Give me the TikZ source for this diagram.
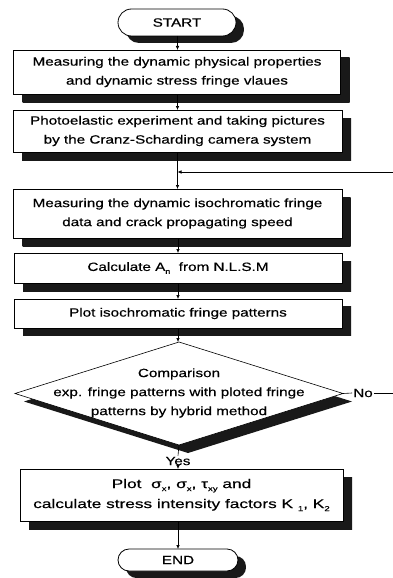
\documentclass[tikz,border=0pt]{standalone}
\usepackage{fontspec}
\setmainfont{Liberation Sans}[FakeStretch=1.27,FakeBold=0.4]
\newfontfamily\widefont{Liberation Sans}[FakeStretch=1.38,FakeBold=0.4]
\usetikzlibrary{shapes.geometric,shapes.misc,arrows.meta}
\newcommand{\mysub}[1]{\raisebox{-0.45ex}{\scriptsize #1}}
\begin{document}
\begin{tikzpicture}[x=1pt,y=-1pt,
  every node/.style={font=\fontsize{12}{19}\selectfont},
  procbox/.style={draw,fill=white,rectangle,inner sep=0pt,outer sep=0pt,align=center,line width=0.8pt},
  term/.style={draw,fill=white,rounded rectangle,inner sep=0pt,outer sep=0pt,line width=0.8pt},
  shadowshade/.style={top color=black!90,bottom color=black!90},
  arr/.style={-{Latex[length=4pt,width=3.5pt]},line width=0.6pt},
  ln/.style={line width=0.6pt}]
\useasboundingbox (0,0) rectangle (393,578);

% shadows
\shade[shadowshade,rounded corners=13pt] (126,16) rectangle (244,43);
\shade[shadowshade] (22.5,58) rectangle (349.5,102);
\shade[shadowshade] (22,118) rectangle (351,160);
\shade[shadowshade] (22.5,197) rectangle (350.5,246);
\shade[shadowshade] (23,261) rectangle (351,291);
\shade[shadowshade] (23,306) rectangle (351,335);
\shade[shadowshade] (188,350) -- (352,401.5) -- (188,453) -- (24,401.5) -- cycle;
\shade[shadowshade] (29,477) rectangle (352,529);
\shade[shadowshade,rounded corners=10.5pt] (126,556) rectangle (246,578);

\node[term,minimum width=118pt,minimum height=27pt] (st) at (177,22.5) {START};
\node[procbox,minimum width=327pt,minimum height=44pt] (b1) at (177,72) {Measuring the dynamic physical properties\\and dynamic stress fringe vlaues};
\node[procbox,minimum width=329pt,minimum height=42pt] (b2) at (177.5,131) {Photoelastic experiment and taking pictures\\by the Cranz-Scharding camera system};
\node[procbox,minimum width=329pt,minimum height=49pt] (b3) at (177.5,213.5) {Measuring the dynamic isochromatic fringe\\data and crack propagating speed};
\node[procbox,minimum width=328pt,minimum height=30pt] (b4) at (178,268) {Calculate A\mysub{n}\ \ from N.L.S.M};
\node[procbox,minimum width=328pt,minimum height=29pt] (b5) at (178,313.5) {Plot isochromatic fringe patterns};
\node[diamond,draw,fill=white,inner sep=0pt,outer sep=0pt,minimum width=328pt,minimum height=103pt,line width=0.6pt] (dia) at (179,393.5) {};
\node[align=center] (diat) at (179,393) {Comparison\\exp. fringe patterns with ploted fringe\\patterns by hybrid method};
\node[inner sep=1pt] (no) at (363,393) {No};
\coordinate (noend) at (393,393);
\node[inner sep=1pt] (yes) at (178,461) {Yes};
\node[procbox,minimum width=323pt,minimum height=52pt,font=\widefont\fontsize{12.5}{20}\selectfont] (b6) at (181.5,495) {Plot\ \ σ\mysub{x}, σ\mysub{x}, τ\mysub{xy} and\\calculate stress intensity factors K\ \mysub{1},\ K\mysub{2}};
\node[term,minimum width=120pt,minimum height=22pt] (en) at (178,560) {END};
\coordinate (fb) at (393,172);

\draw[arr] (st.south -| b2.north) -- (b1.north -| b2.north);
\draw[arr] (b1.south -| b2.north) -- (b2.north);
\draw[arr] (b2.south) -- (b3.north);
\draw[arr] (fb) -- (fb -| b2.south);
\draw[arr] (b3.south -| b4.north) -- (b4.north);
\draw[arr] (b4.south) -- (b5.north);
\draw[arr] (b5.south) -- (b5.south |- dia.north);
\draw[ln] (dia.east) -- (no.west);
\draw[ln] (no.east) -- (noend);
\draw[ln] (dia.south) -- (yes.north);
\draw[arr] (yes.south) -- (yes.south |- b6.north);
\draw[arr] (en.north |- b6.south) -- (en.north);
\end{tikzpicture}
\end{document}
